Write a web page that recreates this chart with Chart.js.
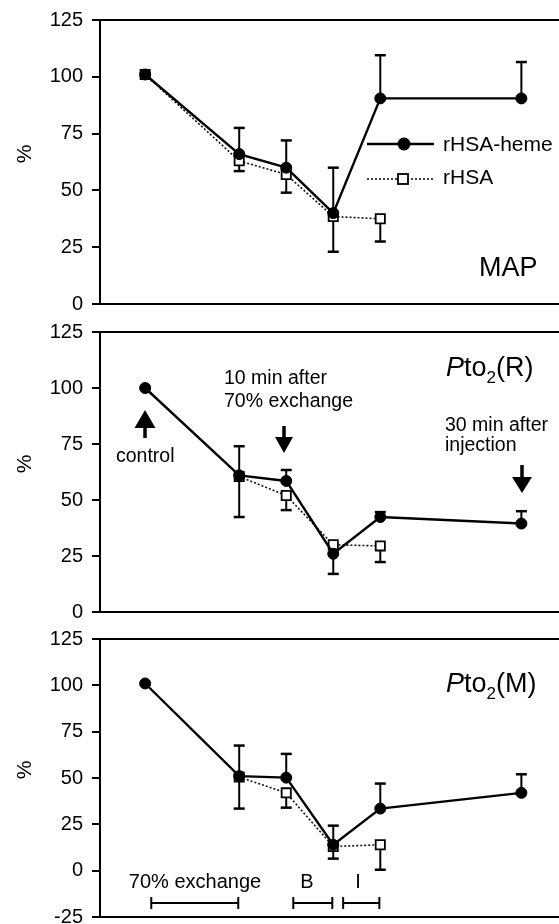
<!DOCTYPE html>
<html><head><meta charset="utf-8">
<script src="https://cdn.jsdelivr.net/npm/chart.js@4.4.0/dist/chart.umd.min.js"></script>
<style>
html,body{margin:0;padding:0;background:#fff;width:559px;height:924px;overflow:hidden;}
canvas{position:absolute;left:0;}
</style></head><body>
<canvas id="c1" width="559" height="320" style="top:0px"></canvas>
<canvas id="c2" width="559" height="316" style="top:312px"></canvas>
<canvas id="c3" width="559" height="305" style="top:619px"></canvas>
<script>
// time positions of measurements (control, exchange, 10 min after, B, I, 30 min after injection)
const timePoints = [0, 2, 3, 4, 5, 8];

// MAP panel
const mapHeme      = [101, 66, 60, 40, 90.5, 90.5];
const mapHemeErrHi = [null, 77.5, 72, 60, 109.5, 106.5];
const mapHemeErrLo = [null, null, null, null, null, null];
const mapHsa       = [101, 63, 57, 38.5, 37.5, null];
const mapHsaErrLo  = [null, 58.5, 49, 23, 27.5, null];

// Pto2(R) panel
const ptoRHeme      = [100, 61, 58.5, 26, 42.4, 39.5];
const ptoRHemeErrHi = [null, 74, 63.4, null, 44.6, 45];
const ptoRHemeErrLo = [null, null, null, 17, null, null];
const ptoRHsa       = [null, 60.5, 52, 30, 29.5, null];
const ptoRHsaErrLo  = [null, 42.4, 45.5, null, 22.3, null];

// Pto2(M) panel
const ptoMHeme      = [101, 51, 50.2, 14, 33.5, 42];
const ptoMHemeErrHi = [null, 67.5, 63, 24.3, 47, 52];
const ptoMHemeErrLo = [null, null, null, null, null, null];
const ptoMHsa       = [null, 50.5, 42, 13, 14, null];
const ptoMHsaErrLo  = [null, 33.5, 34, 6.5, 0.5, null];

// y tick labels
const yTicksTop = [0, 25, 50, 75, 100, 125];
const yTicksBottom = [-25, 0, 25, 50, 75, 100, 125];

// period bars in the bottom panel
const periodLabels = ['70% exchange', 'B', 'I'];
const periodStart  = [0.13, 3.15, 4.21];
const periodEnd    = [1.98, 3.98, 4.98];

const seriesNames = ['rHSA-heme', 'rHSA'];

const FONT = '"Liberation Sans", Arial, Helvetica, sans-serif';

function pts(arr){ return timePoints.map((x,i)=>({x:x, y:arr[i]})); }

function line(ctx,x1,y1,x2,y2,w){ctx.beginPath();ctx.lineWidth=w;ctx.moveTo(x1,y1);ctx.lineTo(x2,y2);ctx.stroke();}

function arrow(ctx,x,yTail,yBase,yTip,headW){
  line(ctx,x,yTail,x,yBase,3.5);
  ctx.beginPath();ctx.moveTo(x-headW/2,yBase);ctx.lineTo(x+headW/2,yBase);ctx.lineTo(x,yTip);ctx.closePath();ctx.fill();
}

function drawPto(ctx,x,y,sub,size){
  ctx.textAlign='left';ctx.textBaseline='alphabetic';
  ctx.font='italic '+size+'px '+FONT; ctx.fillText('P',x,y); x+=ctx.measureText('P').width;
  ctx.font=size+'px '+FONT; ctx.fillText('to',x,y); x+=ctx.measureText('to').width;
  const s=Math.round(size*0.64);
  ctx.font=s+'px '+FONT; ctx.fillText('2',x,y+7); x+=ctx.measureText('2').width;
  ctx.font=size+'px '+FONT; ctx.fillText('('+sub+')',x,y);
}

function makeChart(id, pageTop, ticks, heme, hemeHi, hemeLo, hsa, hsaLo, padBottom, extra){
  const ctxEl=document.getElementById(id);
  const ymin=ticks[0], ymax=ticks[ticks.length-1];
  const plugin={
    id:'deco'+id,
    beforeDatasetsDraw(chart){
      const ctx=chart.ctx, xs=chart.scales.x, ys=chart.scales.y;
      ctx.save();ctx.strokeStyle='#000';
      const bar=(arrFrom,arrTo)=>{
        for(let i=0;i<timePoints.length;i++){
          if(arrFrom[i]==null||arrTo[i]==null) continue;
          const px=xs.getPixelForValue(timePoints[i]);
          const y1=ys.getPixelForValue(arrFrom[i]), y2=ys.getPixelForValue(arrTo[i]);
          line(ctx,px,y1,px,y2,2);
          line(ctx,px-5.5,y2,px+5.5,y2,2.5);
        }
      };
      bar(heme,hemeHi);
      bar(heme,hemeLo);
      bar(hsa,hsaLo);
      ctx.restore();
    },
    afterDraw(chart){
      const ctx=chart.ctx, a=chart.chartArea;
      ctx.save();ctx.strokeStyle='#000';ctx.fillStyle='#000';
      line(ctx,a.left-8,a.top,a.right,a.top,2);
      line(ctx,a.left-8,a.bottom,a.right,a.bottom,2);
      // % axis title
      ctx.save();
      ctx.translate(25,(a.top+a.bottom)/2-8);
      ctx.rotate(-Math.PI/2);
      ctx.font='21px '+FONT;ctx.textAlign='center';ctx.textBaseline='middle';
      ctx.fillText('%',0,0);
      ctx.restore();
      ctx.translate(0,-pageTop);
      extra(ctx,chart);
      ctx.restore();
    }
  };
  return new Chart(ctxEl,{
    type:'line',
    data:{datasets:[
      {label:seriesNames[0],data:pts(heme),borderColor:'#000',backgroundColor:'#000',borderWidth:2.4,
       pointStyle:'circle',pointRadius:5.5,pointBackgroundColor:'#000',pointBorderColor:'#000',pointBorderWidth:1,tension:0,spanGaps:false},
      {label:seriesNames[1],data:pts(hsa),borderColor:'#111',backgroundColor:'#fff',borderWidth:1.6,borderDash:[2,2],
       pointStyle:'rect',pointRadius:6.5,pointBackgroundColor:'#fff',pointBorderColor:'#000',pointBorderWidth:1.8,tension:0,spanGaps:false}
    ]},
    options:{
      responsive:false,animation:false,devicePixelRatio:1,events:[],
      layout:{autoPadding:false,padding:{top:20,bottom:padBottom,left:0,right:0}},
      plugins:{legend:{display:false},tooltip:{enabled:false}},
      scales:{
        x:{type:'linear',min:-0.96,max:8.8,display:false},
        y:{type:'linear',min:ymin,max:ymax,
           afterFit(s){s.width=100;s.paddingTop=0;s.paddingBottom=0;},
           afterBuildTicks(s){s.ticks=ticks.map(v=>({value:v}));},
           ticks:{color:'#000',font:{family:FONT,size:20},padding:9},
           grid:{drawOnChartArea:false,drawTicks:true,tickLength:8,color:'#000',lineWidth:2},
           border:{display:true,color:'#000',width:2}}
      }
    },
    plugins:[plugin]
  });
}

// Panel 1: MAP
makeChart('c1',0,yTicksTop,mapHeme,mapHemeErrHi,mapHemeErrLo,mapHsa,mapHsaErrLo,16,(ctx)=>{
  // legend
  line(ctx,367,144,434,144,2.4);
  ctx.beginPath();ctx.arc(404,144,6.5,0,Math.PI*2);ctx.fill();
  ctx.save();ctx.setLineDash([2,2]);line(ctx,367,179,434,179,1.6);ctx.restore();
  ctx.fillStyle='#fff';ctx.fillRect(398,174,10,10);ctx.fillStyle='#000';
  ctx.lineWidth=1.8;ctx.strokeRect(398,174,10,10);
  ctx.font='21px '+FONT;ctx.textAlign='left';ctx.textBaseline='alphabetic';
  ctx.fillText(seriesNames[0],443,151);
  ctx.fillText(seriesNames[1],443,184);
  ctx.font='27px '+FONT;
  ctx.fillText('MAP',479,276);
});

// Panel 2: Pto2(R)
makeChart('c2',312,yTicksTop,ptoRHeme,ptoRHemeErrHi,ptoRHemeErrLo,ptoRHsa,ptoRHsaErrLo,16,(ctx)=>{
  drawPto(ctx,446,376,'R',27);
  ctx.font='19.5px '+FONT;ctx.textAlign='left';ctx.textBaseline='alphabetic';
  ctx.fillText('10 min after',224,384);
  ctx.fillText('70% exchange',224,407);
  ctx.fillText('control',116,462);
  ctx.fillText('30 min after',445,431);
  ctx.fillText('injection',445,451);
  arrow(ctx,145,438,428,410,21);
  arrow(ctx,284,426,437,453,18);
  arrow(ctx,522,465,477,493,20);
});

// Panel 3: Pto2(M)
makeChart('c3',619,yTicksBottom,ptoMHeme,ptoMHemeErrHi,ptoMHemeErrLo,ptoMHsa,ptoMHsaErrLo,7,(ctx,chart)=>{
  drawPto(ctx,446,692,'M',27);
  const xs=chart.scales.x;
  ctx.font='20px '+FONT;ctx.textAlign='center';ctx.textBaseline='alphabetic';
  const labelCenters=[195,307,358];
  for(let i=0;i<periodLabels.length;i++){
    const x1=xs.getPixelForValue(periodStart[i]), x2=xs.getPixelForValue(periodEnd[i]);
    line(ctx,x1,903,x2,903,2);
    line(ctx,x1,897,x1,909,2);
    line(ctx,x2,897,x2,909,2);
    ctx.fillText(periodLabels[i],labelCenters[i],888);
  }
});
</script>
</body></html>
